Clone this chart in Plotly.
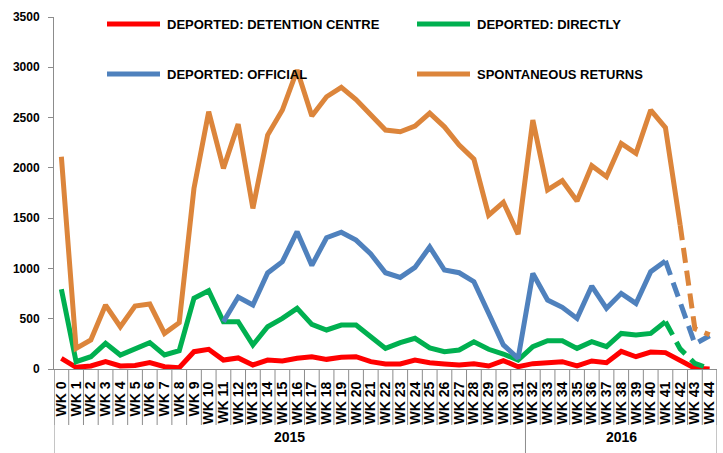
import plotly.graph_objects as go

weeks = [f"WK {i}" for i in range(45)]
years = ["2015", "2016"]
year_first_week = [0, 32]

detention_centre = [106, 17, 30, 73, 30, 35, 63, 23, 13, 172, 196, 89, 110, 40, 89, 80, 106, 122, 96, 116,
                    122, 73, 50, 50, 89, 63, 50, 40, 53, 30, 83, 23, 53, 60, 73, 30, 80, 63, 175, 122,
                    168, 163, 89, 7, 0]
directly = [792, 73, 122, 255, 139, 205, 262, 139, 182, 703, 778, 470, 470, 239, 420, 503, 603, 443, 388, 437,
            437, 321, 205, 262, 305, 210, 172, 189, 271, 196, 149, 89, 222, 281, 281, 205, 271, 222, 354, 338,
            354, 470, 200, 55, 5]
official = [None] * 11 + [470, 716, 636, 955, 1067, 1365, 1030, 1305, 1360,
            1282, 1143, 957, 911, 1010, 1213, 984, 957, 868, 554, 239, 106, 950, 686, 613, 503, 825, 603, 752, 652,
            967, 1075, 670, 250, 330]
spontaneous = [2110, 205, 288, 636, 420, 626, 646, 354, 460, 1796, 2558, 1995, 2435, 1597, 2326, 2575, 2972, 2515, 2707, 2800,
               2680, 2530, 2376, 2359, 2415, 2544, 2408, 2227, 2087, 1530, 1658, 1340, 2475, 1780, 1872, 1670, 2021, 1912, 2243, 2144,
               2575, 2400, 1430, 400, 340]

series_names = ["DEPORTED: DETENTION CENTRE", "DEPORTED: DIRECTLY", "DEPORTED: OFFICIAL", "SPONTANEOUS RETURNS"]
series_values = [detention_centre, directly, official, spontaneous]
series_colors = ["#FF0000", "#00B050", "#4F81BD", "#DC853B"]
dash_from = [None, 41, 41, 42]  # index where the dashed (provisional) part starts

FONT = "Liberation Sans, Arial, sans-serif"
AXIS = "#8C8C8C"
LW = 5

fig = go.Figure()
for name, vals, col, d in zip(series_names, series_values, series_colors, dash_from):
    if d is None:
        fig.add_trace(go.Scatter(x=weeks, y=vals, mode="lines", name=name,
                                 line=dict(color=col, width=LW), showlegend=False))
    else:
        fig.add_trace(go.Scatter(x=weeks[:d + 1], y=vals[:d + 1], mode="lines", name=name,
                                 line=dict(color=col, width=LW), showlegend=False))
        fig.add_trace(go.Scatter(x=weeks[d:], y=vals[d:], mode="lines", name=name,
                                 line=dict(color=col, width=LW, dash="15px,8px"), showlegend=False))

# plot geometry
L, R, T, B = 54, 6, 17, 84
W, H = 723, 453
pw, ph = W - L - R, H - T - B

shapes = []
# category boundary ticks
for i in range(len(weeks) + 1):
    shapes.append(dict(type="line", xref="x", yref="paper", x0=i - 0.5, x1=i - 0.5,
                       y0=0, y1=-56 / ph, line=dict(color=AXIS, width=1)))
# year dividers
bounds = year_first_week + [len(weeks)]
for b in bounds:
    shapes.append(dict(type="line", xref="x", yref="paper", x0=b - 0.5, x1=b - 0.5,
                       y0=0, y1=-B / ph, line=dict(color=AXIS, width=1)))

annotations = []
for k, yr in enumerate(years):
    mid = (bounds[k] + bounds[k + 1] - 1) / 2
    annotations.append(dict(text=yr, xref="x", yref="paper", x=mid, y=(369 - 437) / ph,
                            showarrow=False, font=dict(family=FONT, size=14, color="#000", weight="bold"),
                            xanchor="center", yanchor="middle"))

# manual legend (2 columns x 2 rows)
leg_pos = [(107, 24), (417, 24), (107, 74), (417, 74)]
for (px, py), name, col in zip(leg_pos, series_names, series_colors):
    yy = (369 - py) / ph
    shapes.append(dict(type="line", xref="paper", yref="paper",
                       x0=(px - L) / pw, x1=(px + 53 - L) / pw, y0=yy, y1=yy,
                       line=dict(color=col, width=5)))
    annotations.append(dict(text=name, xref="paper", yref="paper", x=(px + 58 - L) / pw, y=yy,
                            xanchor="left", yanchor="middle", showarrow=False,
                            font=dict(family=FONT, size=13, color="#000", weight="bold")))

fig.update_layout(
    width=W, height=H,
    margin=dict(l=L, r=R, t=T, b=B, autoexpand=False),
    paper_bgcolor="white", plot_bgcolor="white",
    showlegend=False,
    shapes=shapes, annotations=annotations,
    xaxis=dict(type="category", categoryorder="array", categoryarray=weeks,
               tickmode="array", tickvals=weeks, ticktext=weeks,
               range=[-0.5, len(weeks) - 0.5], automargin=False,
               showline=True, linecolor=AXIS, linewidth=1, ticks="", showgrid=False,
               tickangle=-90, tickfont=dict(family=FONT, size=14, color="#000", weight="bold"),
               ticklabelstandoff=6, zeroline=False),
    yaxis=dict(range=[0, 3500], dtick=500, showline=True, linecolor=AXIS, linewidth=1,
               automargin=False,
               ticks="outside", ticklen=5, tickcolor=AXIS, showgrid=False, zeroline=False,
               tickfont=dict(family=FONT, size=12, color="#000", weight="bold"),
               ticklabelstandoff=6),
)

fig.write_html("out.html", config={"displayModeBar": False},
               post_script="document.body.style.margin='0px';document.body.style.padding='0px';"
                           "document.body.style.overflow='hidden';")
